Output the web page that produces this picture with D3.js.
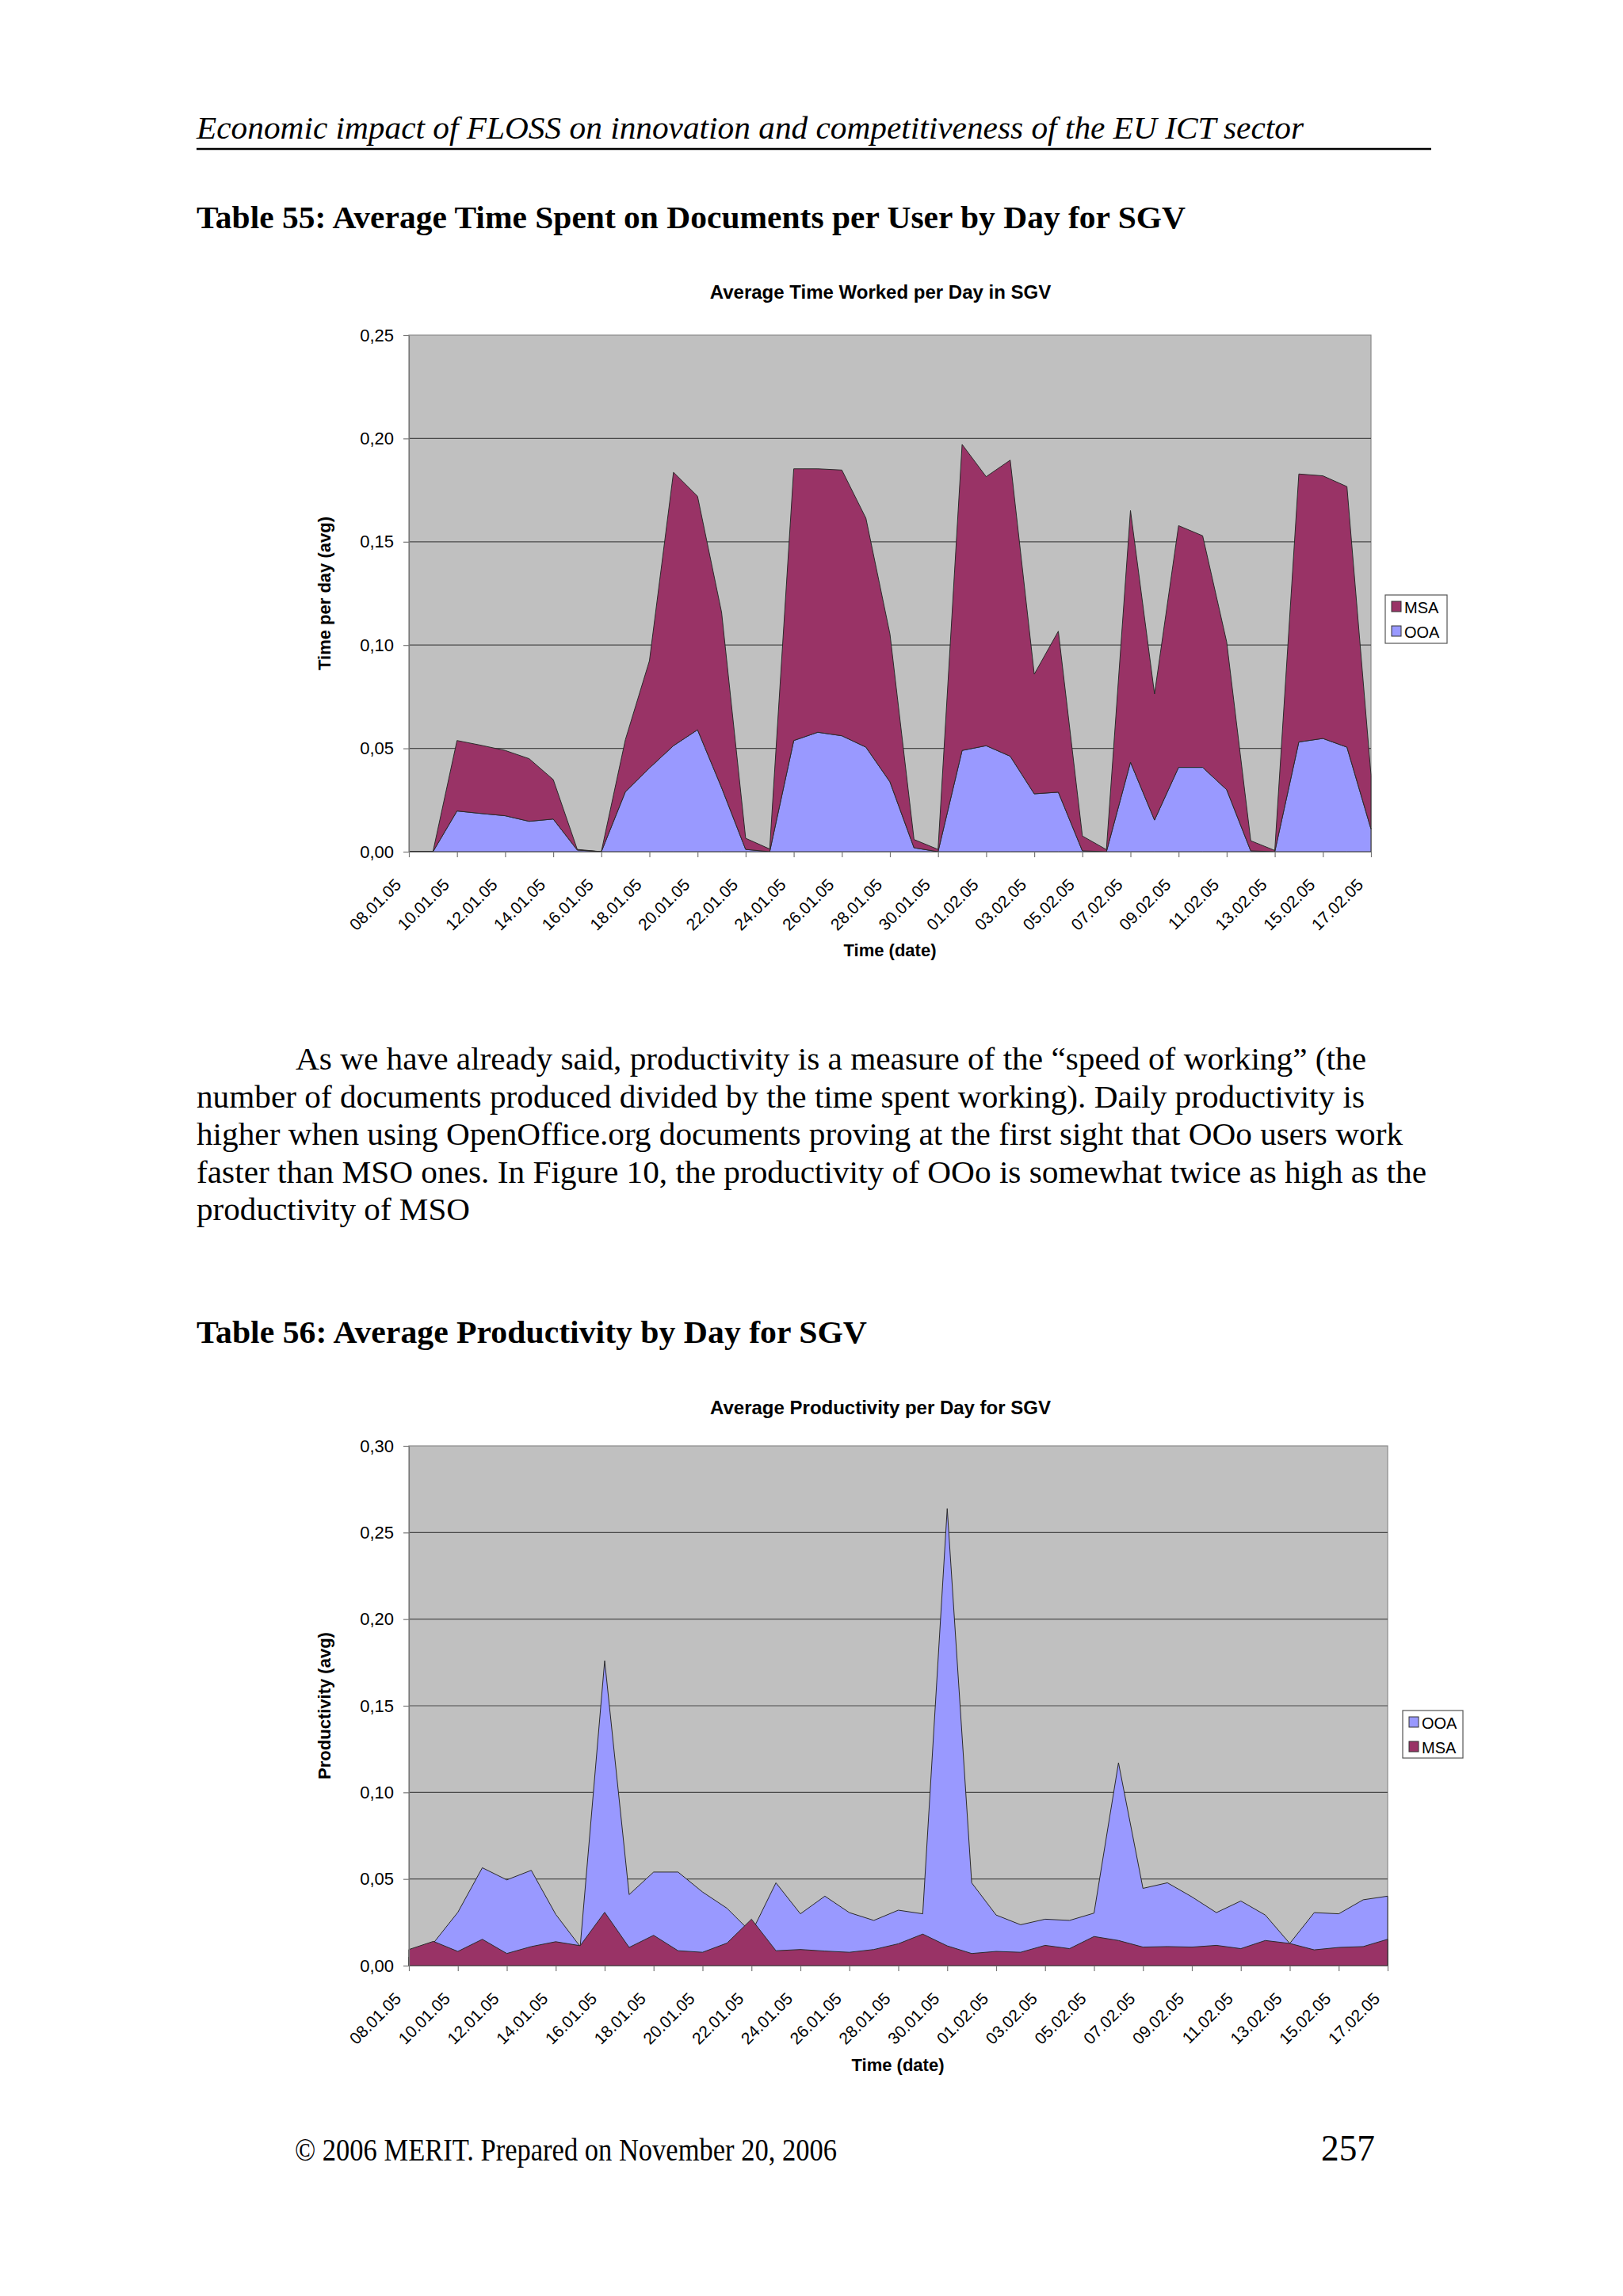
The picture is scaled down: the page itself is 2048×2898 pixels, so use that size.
<!DOCTYPE html>
<html><head><meta charset="utf-8">
<script src="https://cdn.jsdelivr.net/npm/d3@7"></script>
<style>body{margin:0;background:#fff;} svg{display:block;}</style>
</head><body>
<svg id="page" width="2048" height="2898"></svg>
<script>
// ---------- DATA ----------
const dates = ["08.01.05","09.01.05","10.01.05","11.01.05","12.01.05","13.01.05","14.01.05","15.01.05","16.01.05","17.01.05",
  "18.01.05","19.01.05","20.01.05","21.01.05","22.01.05","23.01.05","24.01.05","25.01.05","26.01.05","27.01.05",
  "28.01.05","29.01.05","30.01.05","31.01.05","01.02.05","02.02.05","03.02.05","04.02.05","05.02.05","06.02.05",
  "07.02.05","08.02.05","09.02.05","10.02.05","11.02.05","12.02.05","13.02.05","14.02.05","15.02.05","16.02.05","17.02.05"];
const tickLabels = ["08.01.05","10.01.05","12.01.05","14.01.05","16.01.05","18.01.05","20.01.05","22.01.05","24.01.05","26.01.05",
  "28.01.05","30.01.05","01.02.05","03.02.05","05.02.05","07.02.05","09.02.05","11.02.05","13.02.05","15.02.05","17.02.05"];

// Chart 1: Average Time Worked per Day (stacked: OOA bottom, MSA on top)
const timeOOA = [0,0,0.0197,0.0185,0.0174,0.0147,0.0158,0.0008,0,0.029,
  0.0405,0.0513,0.059,0.031,0.0011,0,0.0538,0.0578,0.0561,0.0506,
  0.0338,0.0019,0,0.049,0.0513,0.0462,0.028,0.0288,0.0004,0,
  0.0433,0.0153,0.0408,0.0408,0.030,0.0004,0,0.0531,0.0548,0.0506,0.011];
const timeMSA = [0,0,0.0341,0.0330,0.0316,0.0303,0.0191,0.0003,0,0.0252,
  0.0519,0.1323,0.113,0.0848,0.0054,0.0013,0.1315,0.1275,0.1286,0.1108,
  0.0715,0.004,0.0011,0.1481,0.1302,0.1433,0.0579,0.0779,0.0072,0.001,
  0.1218,0.061,0.117,0.1121,0.0715,0.0049,0.0006,0.1297,0.1271,0.1261,0.026];
const yTicks1 = [0,0.05,0.10,0.15,0.20,0.25];

// Chart 2: Average Productivity per Day (overlapping areas: OOA behind, MSA in front)
const prodOOA = [0.005,0.013,0.0308,0.0565,0.0495,0.055,0.0296,0.011,0.176,0.041,
  0.054,0.054,0.0425,0.0331,0.019,0.0478,0.0299,0.0401,0.0306,0.0261,
  0.032,0.0299,0.2638,0.0478,0.0292,0.0236,0.0268,0.0261,0.0303,0.1171,
  0.0446,0.0478,0.0397,0.0306,0.0373,0.0292,0.0128,0.0306,0.0299,0.038,0.0401];
const prodMSA = [0.0093,0.014,0.0082,0.0152,0.007,0.011,0.0138,0.0115,0.0308,0.0105,
  0.0175,0.0086,0.0077,0.013,0.0268,0.0086,0.0093,0.0084,0.0077,0.0093,
  0.0126,0.0182,0.0114,0.007,0.0082,0.0077,0.0117,0.0098,0.0168,0.0145,
  0.0107,0.011,0.0107,0.0117,0.0098,0.0145,0.0128,0.0091,0.0105,0.011,0.0152];
const yTicks2 = [0,0.05,0.10,0.15,0.20,0.25,0.30];

const colorMSA = "#993366";
const colorOOA = "#9999FF";

// Page texts
const headerText = "Economic impact of FLOSS on innovation and competitiveness of the EU ICT sector";
const heading55 = "Table 55: Average Time Spent on Documents per User by Day for SGV";
const heading56 = "Table 56: Average Productivity by Day for SGV";
const paragraphLines = [
  "As we have already said, productivity is a measure of the \u201Cspeed of working\u201D (the",
  "number of documents produced divided by the time spent working). Daily productivity is",
  "higher when using OpenOffice.org documents proving at the first sight that OOo users work",
  "faster than MSO ones. In Figure 10, the productivity of OOo is somewhat twice as high as the",
  "productivity of MSO"
];
const footerText = "\u00A9 2006 MERIT. Prepared on November 20, 2006";
const pageNumber = "257";

// ---------- DRAW ----------
const svg = d3.select("#page");
svg.append("rect").attr("width",2048).attr("height",2898).attr("fill","#fff");

const serif = "'Liberation Serif','Times New Roman',serif";
const sans = "'Liberation Sans',Arial,sans-serif";

// Header
svg.append("text").attr("x",248).attr("y",175).attr("font-family",serif).attr("font-style","italic")
  .attr("font-size",41).attr("textLength",1397).attr("lengthAdjust","spacingAndGlyphs").text(headerText);
svg.append("line").attr("x1",248).attr("x2",1806).attr("y1",188).attr("y2",188).attr("stroke","#000").attr("stroke-width",2.5);

svg.append("text").attr("x",248).attr("y",288).attr("font-family",serif).attr("font-weight","bold")
  .attr("font-size",41).attr("textLength",1248).attr("lengthAdjust","spacingAndGlyphs").text(heading55);

// paragraph
const paraX = [373,248,248,248,248];
const paraW = [1351,1474,1522,1552,345];
paragraphLines.forEach((t,i)=>{
  svg.append("text").attr("x",paraX[i]).attr("y",1350+i*47.5).attr("font-family",serif)
    .attr("font-size",41).attr("textLength",paraW[i]).attr("lengthAdjust","spacingAndGlyphs").text(t);
});

svg.append("text").attr("x",248).attr("y",1695).attr("font-family",serif).attr("font-weight","bold")
  .attr("font-size",41).attr("textLength",846).attr("lengthAdjust","spacingAndGlyphs").text(heading56);

// footer
svg.append("text").attr("x",372).attr("y",2727).attr("font-family",serif)
  .attr("font-size",41).attr("textLength",684).attr("lengthAdjust","spacingAndGlyphs").text(footerText);
svg.append("text").attr("x",1667).attr("y",2727).attr("font-family",serif)
  .attr("font-size",46).attr("textLength",68).attr("lengthAdjust","spacingAndGlyphs").text(pageNumber);

const locale = d3.formatLocale({decimal:",", thousands:".", grouping:[3], currency:["","\u20AC"]});
const fmt = locale.format(".2f");

function drawChart(o) {
  const g = svg.append("g");
  const x = d3.scalePoint().domain(dates).range([o.left, o.right]).padding(0);
  const y = d3.scaleLinear().domain([0, o.yMax]).range([o.bottom, o.top]);

  // plot background
  g.append("rect").attr("x",o.left).attr("y",o.top).attr("width",o.right-o.left).attr("height",o.bottom-o.top)
    .attr("fill","#C0C0C0").attr("stroke","#8a8a8a").attr("stroke-width",1.2);

  // gridlines
  g.append("g").selectAll("line").data(o.yTicks.filter(v=>v>0 && v<o.yMax)).join("line")
    .attr("x1",o.left).attr("x2",o.right).attr("y1",d=>y(d)).attr("y2",d=>y(d))
    .attr("stroke","#4a4a4a").attr("stroke-width",1.2);

  // areas
  if (o.stacked) {
    const rows = dates.map((d,i)=>({date:d, OOA:o.ooa[i], MSA:o.msa[i]}));
    const stack = d3.stack().keys(["OOA","MSA"])(rows);
    const area = d3.area().x(d=>x(d.data.date)).y0(d=>y(d[0])).y1(d=>y(d[1]));
    g.append("g").selectAll("path").data(stack).join("path")
      .attr("d",area).attr("fill",d=>d.key==="OOA"?colorOOA:colorMSA)
      .attr("stroke","#2a2a2a").attr("stroke-width",1).attr("stroke-linejoin","round");
  } else {
    const area = d3.area().x((d,i)=>x(dates[i])).y0(y(0)).y1(d=>y(d));
    g.append("path").attr("d",area(o.ooa)).attr("fill",colorOOA).attr("stroke","#2a2a2a").attr("stroke-width",1);
    g.append("path").attr("d",area(o.msa)).attr("fill",colorMSA).attr("stroke","#2a2a2a").attr("stroke-width",1);
  }

  // Y axis
  const yAxis = d3.axisLeft(y).tickValues(o.yTicks).tickFormat(fmt).tickSize(7).tickSizeOuter(0).tickPadding(12);
  const ya = g.append("g").attr("transform",`translate(${o.left},0)`).call(yAxis);
  ya.selectAll("path,line").attr("stroke","#777").attr("stroke-width",1.2);
  ya.selectAll("text").attr("font-family",sans).attr("font-size",22).attr("fill","#000");

  // X axis
  const xAxis = d3.axisBottom(x).tickValues(tickLabels).tickSize(7).tickSizeOuter(0);
  const xa = g.append("g").attr("transform",`translate(0,${o.bottom})`).call(xAxis);
  xa.selectAll("path,line").attr("stroke","#777").attr("stroke-width",1.2);
  xa.selectAll("text").attr("font-family",sans).attr("font-size",21).attr("fill","#000")
    .attr("x",0).attr("y",0).attr("dy",0).attr("text-anchor","end")
    .attr("transform","translate(-9,43) rotate(-45)");

  // titles
  g.append("text").attr("x",o.titleX).attr("y",o.titleY).attr("text-anchor","middle")
    .attr("font-family",sans).attr("font-weight","bold").attr("font-size",24).text(o.title);
  g.append("text").attr("x",o.xTitleX).attr("y",o.xTitleY).attr("text-anchor","middle")
    .attr("font-family",sans).attr("font-weight","bold").attr("font-size",22).text("Time (date)");
  g.append("text").attr("transform",`translate(417,${(o.top+o.bottom)/2}) rotate(-90)`).attr("text-anchor","middle")
    .attr("font-family",sans).attr("font-weight","bold").attr("font-size",22).text(o.yTitle);

  // legend
  const L = o.legend;
  g.append("rect").attr("x",L.x).attr("y",L.y).attr("width",L.w).attr("height",L.h)
    .attr("fill","#fff").attr("stroke","#555").attr("stroke-width",1.2);
  L.items.forEach((it,i)=>{
    g.append("rect").attr("x",L.x+8).attr("y",L.y+8+i*31).attr("width",12).attr("height",13)
      .attr("fill",it.color).attr("stroke","#333").attr("stroke-width",1);
    g.append("text").attr("x",L.x+24).attr("y",L.y+23+i*31)
      .attr("font-family",sans).attr("font-size",20).text(it.name);
  });
}

drawChart({
  left:516, right:1730, top:423, bottom:1075, yMax:0.25, yTicks:yTicks1,
  stacked:true, ooa:timeOOA, msa:timeMSA,
  title:"Average Time Worked per Day in SGV", titleX:1111, titleY:377,
  xTitleX:1123, xTitleY:1207, yTitle:"Time per day (avg)",
  legend:{x:1748, y:751, w:78, h:61, items:[{name:"MSA",color:colorMSA},{name:"OOA",color:colorOOA}]}
});

drawChart({
  left:516, right:1751, top:1825, bottom:2481, yMax:0.30, yTicks:yTicks2,
  stacked:false, ooa:prodOOA, msa:prodMSA,
  title:"Average Productivity per Day for SGV", titleX:1111, titleY:1785,
  xTitleX:1133, xTitleY:2614, yTitle:"Productivity (avg)",
  legend:{x:1770, y:2159, w:76, h:60, items:[{name:"OOA",color:colorOOA},{name:"MSA",color:colorMSA}]}
});
</script>
</body></html>
